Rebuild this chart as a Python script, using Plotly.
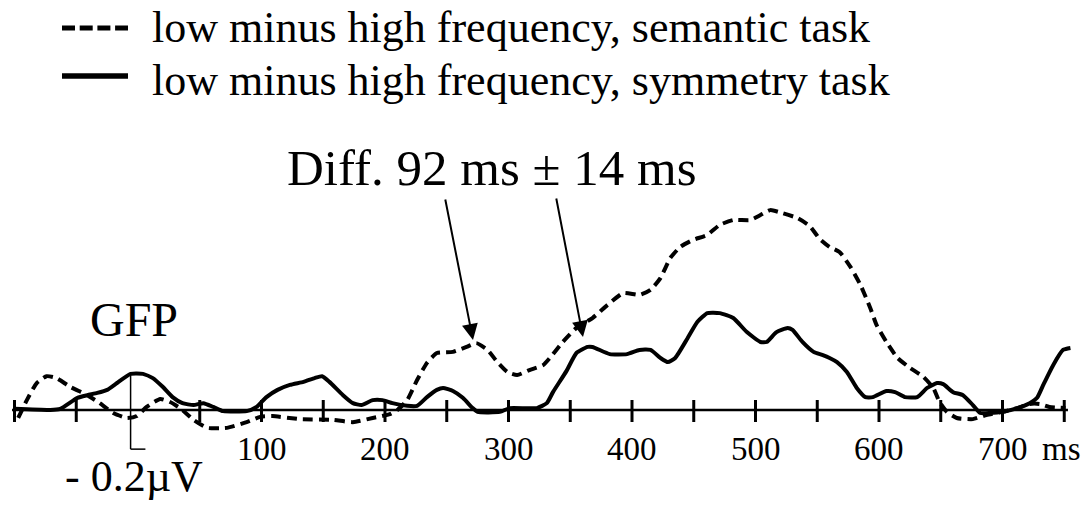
import plotly.graph_objects as go

# ---- data: GFP difference waves (ms, microvolts) ----
semantic_ms = [-97, -90, -82, -74, -66, -55, -41, -31, -20, -9, -1, 7, 18, 26, 34, 45, 56, 72, 88, 99,
               109, 131, 158, 174, 190, 204, 210, 218, 226, 234, 242, 255, 266, 274, 283, 291, 299, 307,
               317, 328, 334, 344, 355, 368, 380, 393, 406, 415, 423, 431, 439, 449, 461, 471, 482, 496,
               504, 512, 522, 534, 544, 552, 560, 568, 577, 585, 593, 598, 606, 615, 625, 636, 644, 649,
               655, 663, 676, 687, 700, 712, 722, 730, 738, 751]
semantic_uv = [-0.021, 0.026, 0.071, 0.089, 0.084, 0.061, 0.039, 0.018, -0.008, -0.021, -0.016, 0.008,
               0.029, 0.021, 0.005, -0.026, -0.047, -0.047, -0.032, -0.018, -0.016, -0.024, -0.026,
               -0.032, -0.021, -0.011, 0.0, 0.026, 0.079, 0.124, 0.150, 0.153, 0.166, 0.176, 0.158,
               0.126, 0.100, 0.092, 0.105, 0.118, 0.139, 0.179, 0.216, 0.242, 0.276, 0.308, 0.303,
               0.316, 0.347, 0.400, 0.429, 0.447, 0.461, 0.487, 0.500, 0.500, 0.513, 0.526, 0.518,
               0.505, 0.484, 0.450, 0.429, 0.416, 0.376, 0.329, 0.268, 0.224, 0.179, 0.137, 0.111,
               0.087, 0.058, 0.021, -0.005, -0.021, -0.024, -0.013, -0.005, 0.005, 0.016, 0.016,
               0.008, 0.005]

symmetry_ms = [-100, -71, -63, -49, -41, -33, -25, -17, -6, 4, 12, 20, 28, 36, 45, 53, 61, 69, 88, 96,
               104, 113, 123, 134, 143, 149, 155, 166, 174, 181, 190, 198, 206, 218, 226, 234, 242, 247,
               255, 263, 271, 275, 293, 301, 323, 331, 336, 347, 355, 364, 368, 382, 396, 406, 415, 423,
               429, 435, 445, 453, 461, 471, 482, 493, 504, 509, 517, 526, 530, 538, 547, 554, 560, 566,
               574, 582, 589, 595, 606, 613, 621, 631, 639, 647, 652, 660, 668, 676, 682, 690, 700, 712,
               722, 728, 733, 741, 749, 755]
symmetry_uv = [0.003, 0.0, 0.003, 0.032, 0.039, 0.045, 0.053, 0.071, 0.095, 0.095, 0.084, 0.061, 0.034,
               0.018, 0.013, 0.018, 0.008, -0.003, -0.003, 0.008, 0.034, 0.053, 0.066, 0.074, 0.084,
               0.089, 0.074, 0.039, 0.018, 0.013, 0.026, 0.026, 0.018, 0.011, 0.011, 0.034, 0.053,
               0.058, 0.050, 0.032, 0.005, -0.005, -0.005, 0.005, 0.005, 0.018, 0.047, 0.103, 0.150,
               0.166, 0.166, 0.147, 0.147, 0.158, 0.158, 0.137, 0.126, 0.137, 0.189, 0.232, 0.255,
               0.255, 0.242, 0.205, 0.179, 0.179, 0.205, 0.216, 0.211, 0.179, 0.153, 0.145, 0.137,
               0.126, 0.100, 0.058, 0.034, 0.034, 0.050, 0.047, 0.034, 0.034, 0.058, 0.071, 0.068,
               0.047, 0.039, 0.013, -0.008, -0.008, -0.005, 0.005, 0.018, 0.032, 0.066, 0.118, 0.158,
               0.163]

tick_ms = [-100, -50, 50, 100, 150, 200, 250, 300, 350, 400, 450, 500, 550, 600, 650, 700, 750]
label_ms = [100, 200, 300, 400, 500, 600, 700]
legend_labels = ["low minus high frequency, semantic task",
                 "low minus high frequency, symmetry task"]

W, H = 1089, 506
FONT = "Liberation Serif, Times New Roman, serif"

# axis scaling: 1.235 px per ms, zero at x=138 px; 380 px per microvolt, baseline at y=410 px
X0, XS = 138.0, 1.235
Y0, YS = 410.0, 380.0
x_range = [(0 - X0) / XS, (W - X0) / XS]
y_range = [(Y0 - H) / YS, Y0 / YS]


def px(x):
    return x / W


def py(y):
    return 1 - y / H


fig = go.Figure()

fig.add_trace(go.Scatter(x=semantic_ms, y=semantic_uv, mode="lines",
                         line=dict(color="black", width=4, dash="10px,6px",
                                   shape="spline", smoothing=0.5),
                         name=legend_labels[0], showlegend=False, hoverinfo="skip"))
fig.add_trace(go.Scatter(x=symmetry_ms, y=symmetry_uv, mode="lines",
                         line=dict(color="black", width=4, shape="spline", smoothing=0.5),
                         name=legend_labels[1], showlegend=False, hoverinfo="skip"))

shapes = []
# time axis
shapes.append(dict(type="line", xref="x", yref="y", x0=-102, x1=753, y0=0, y1=0,
                   line=dict(color="black", width=2.5)))
for t in tick_ms:
    shapes.append(dict(type="line", xref="x", yref="y", x0=t, x1=t,
                       y0=10 / YS, y1=-12 / YS, line=dict(color="black", width=3)))

# amplitude scale bar
bar_x = -6
shapes.append(dict(type="line", xref="x", yref="y", x0=bar_x, x1=bar_x, y0=0.097, y1=-0.103,
                   line=dict(color="black", width=1.5)))
shapes.append(dict(type="line", xref="x", yref="y", x0=bar_x, x1=bar_x + 12, y0=-0.103, y1=-0.103,
                   line=dict(color="black", width=1.5)))

# legend samples
shapes.append(dict(type="line", xref="paper", yref="paper", x0=px(62), x1=px(128),
                   y0=py(28), y1=py(28), line=dict(color="black", width=5, dash="13px,4.7px")))
shapes.append(dict(type="line", xref="paper", yref="paper", x0=px(62), x1=px(128),
                   y0=py(76), y1=py(76), line=dict(color="black", width=5.5)))

annotations = []
for i, lbl in enumerate(legend_labels):
    annotations.append(dict(text=lbl, xref="paper", yref="paper", x=px(150), y=py([27, 81][i]),
                            xanchor="left", yanchor="middle", showarrow=False,
                            font=dict(family=FONT, size=44, color="black")))

for v in label_ms:
    annotations.append(dict(text=str(v), xref="x", yref="paper", x=v, y=py(449),
                            xanchor="center", yanchor="middle", showarrow=False,
                            font=dict(family=FONT, size=33, color="black")))
annotations.append(dict(text="ms", xref="paper", yref="paper", x=px(1061), y=py(449),
                        xanchor="center", yanchor="middle", showarrow=False,
                        font=dict(family=FONT, size=33, color="black")))

annotations.append(dict(text="GFP", xref="paper", yref="paper", x=px(134), y=py(319),
                        xanchor="center", yanchor="middle", showarrow=False,
                        font=dict(family=FONT, size=48, color="black")))
annotations.append(dict(text="- 0.2\u00b5V", xref="paper", yref="paper", x=px(134), y=py(476),
                        xanchor="center", yanchor="middle", showarrow=False,
                        font=dict(family=FONT, size=44, color="black")))
annotations.append(dict(text="Diff. 92 ms \u00b1 14 ms", xref="paper", yref="paper",
                        x=px(492), y=py(168), xanchor="center", yanchor="middle", showarrow=False,
                        font=dict(family=FONT, size=51, color="black")))

# arrows pointing at the two peaks
for tip, tail in [((473, 340), (445, 198)), ((583, 337), (556, 197))]:
    annotations.append(dict(text="", xref="paper", yref="paper", x=px(tip[0]), y=py(tip[1]),
                            ax=tail[0] - tip[0], ay=tail[1] - tip[1], showarrow=True,
                            arrowhead=2, arrowsize=1.6, arrowwidth=2, arrowcolor="black"))

fig.update_layout(
    width=W, height=H,
    margin=dict(l=0, r=0, t=0, b=0),
    paper_bgcolor="white", plot_bgcolor="white",
    xaxis=dict(range=x_range, visible=False),
    yaxis=dict(range=y_range, visible=False),
    shapes=shapes, annotations=annotations,
    showlegend=False,
)

fig.write_html("out.html")
